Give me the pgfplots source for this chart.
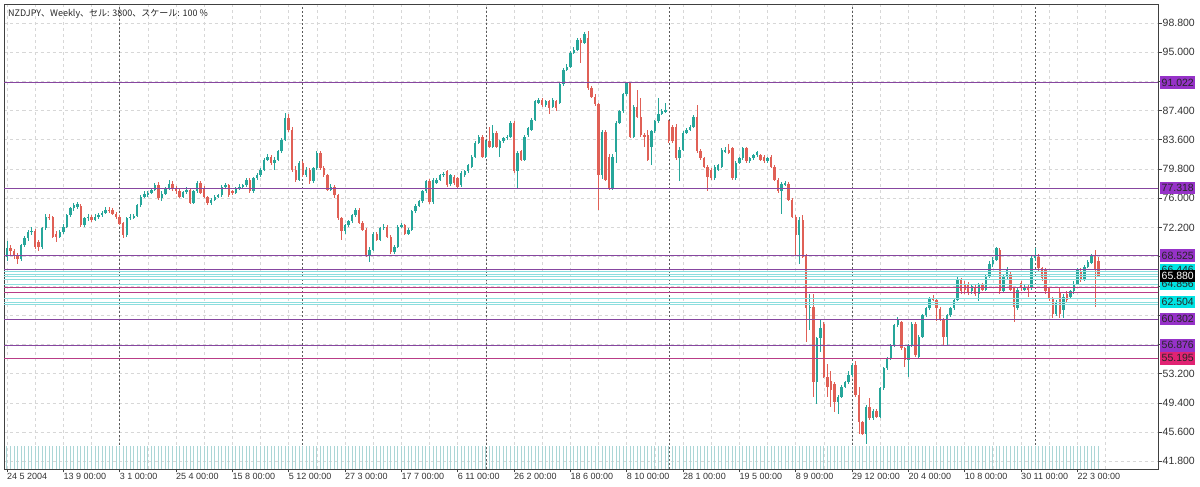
\documentclass[border=0pt]{standalone}
\usepackage{fontspec}
\setmainfont{Liberation Sans}
\newfontfamily\cjk{Noto Sans CJK JP}
\usepackage{pgfplots}
\pgfplotsset{compat=1.18}
\usepackage{pgfplotstable}

\definecolor{upc}{RGB}{38,166,154}
\definecolor{dnc}{RGB}{224,96,86}
\definecolor{volc}{RGB}{172,214,214}
\definecolor{gridc}{RGB}{215,215,215}
\definecolor{yearc}{RGB}{90,90,90}
\definecolor{purl}{RGB}{135,70,160}
\definecolor{pinkl}{RGB}{185,60,135}
\definecolor{cyanl}{RGB}{140,222,222}
\definecolor{purbox}{RGB}{150,50,200}
\definecolor{pinkbox}{RGB}{225,35,115}
\definecolor{cyanbox}{RGB}{0,228,228}

\pgfplotstableread{
i o h l c v
0 68.4 70.4 67.9 69.5 2.99
1 69.5 69.9 68.6 69.1 2.99
2 69.1 69.4 68.1 68.5 2.99
3 68.5 68.9 67.5 68.1 2.99
4 68.1 70.1 67.8 69.9 2.99
5 69.9 71.1 69.6 70.8 2.99
6 70.8 71.9 70.5 71.6 2.99
7 71.6 72.3 71.2 71.8 2.99
8 71.8 72.0 69.4 69.7 2.99
9 70.3 70.6 69.2 69.6 2.99
10 69.6 72.3 69.4 72.1 2.99
11 72.1 73.9 71.9 73.6 2.99
12 73.6 74.0 73.2 73.5 2.99
13 73.5 73.7 70.8 71.0 2.99
14 71.3 71.8 70.3 71.0 2.99
15 71.0 71.9 70.8 71.6 2.99
16 71.6 72.6 71.4 72.3 2.99
17 72.3 74.0 72.1 73.8 2.99
18 73.8 74.9 73.6 74.7 2.99
19 74.7 75.4 74.4 75.1 2.99
20 74.9 75.5 74.6 75.2 2.99
21 75.0 75.2 72.3 72.5 2.99
22 72.5 73.6 72.3 73.4 2.99
23 73.4 73.9 73.1 73.6 2.99
24 73.6 73.8 72.9 73.2 2.99
25 73.2 73.9 73.0 73.6 2.99
26 73.6 74.1 73.3 73.8 2.99
27 73.8 74.3 73.6 74.1 2.99
28 74.1 74.8 73.9 74.5 2.99
29 74.5 74.9 74.1 74.4 2.99
30 74.5 74.7 73.8 74.0 2.99
31 74.0 74.2 73.3 73.6 2.99
32 73.6 73.8 72.5 72.7 2.99
33 72.8 72.9 70.8 71.2 2.99
34 71.2 73.6 71.0 73.4 2.99
35 73.4 74.0 73.2 73.6 2.99
36 73.5 74.0 73.3 73.7 2.99
37 73.7 75.3 73.5 75.1 2.99
38 75.1 76.4 74.9 76.2 2.99
39 76.2 76.9 76.0 76.6 2.99
40 76.5 76.9 76.2 76.7 2.99
41 76.7 77.3 76.5 77.1 2.99
42 77.1 78.0 76.9 77.7 2.99
43 77.7 78.1 75.8 76.0 2.99
44 76.0 76.9 75.7 76.6 2.99
45 76.6 77.5 76.4 77.3 2.99
46 77.3 78.4 77.1 77.9 2.99
47 77.9 78.2 77.0 77.3 2.99
48 77.3 77.6 76.6 76.9 2.99
49 77.0 77.3 76.0 76.2 2.99
50 76.2 77.0 76.0 76.8 2.99
51 76.8 77.4 76.5 77.1 2.99
52 77.1 77.3 75.2 75.4 2.99
53 75.4 77.1 75.2 76.9 2.99
54 76.9 78.3 76.7 78.0 2.99
55 78.0 78.2 76.5 76.7 2.99
56 77.3 77.6 76.0 76.2 2.99
57 76.1 76.3 75.1 75.4 2.99
58 75.4 76.0 75.1 75.8 2.99
59 75.8 76.4 75.6 76.2 2.99
60 76.2 76.6 76.0 76.4 2.99
61 76.4 77.7 76.2 77.5 2.99
62 77.5 78.0 77.3 77.7 2.99
63 77.7 77.9 76.2 76.4 2.99
64 76.9 77.1 76.4 76.7 2.99
65 76.7 77.5 76.5 77.3 2.99
66 77.3 77.8 77.1 77.5 2.99
67 77.5 77.9 77.2 77.7 2.99
68 77.7 78.6 77.5 78.4 2.99
69 78.4 78.6 76.7 76.9 2.99
70 76.9 78.8 76.7 78.6 2.99
71 78.6 79.3 78.4 79.0 2.99
72 79.0 79.9 78.8 79.7 2.99
73 79.7 81.2 79.5 81.0 2.99
74 81.0 81.7 80.8 81.4 2.99
75 81.4 81.6 80.3 80.55 2.99
76 80.55 81.3 79.7 81.0 2.99
77 81.0 82.3 80.8 82.1 2.99
78 82.1 83.8 81.9 83.6 2.99
79 83.6 87.1 83.4 86.4 2.99
80 86.4 87.0 84.6 84.9 2.99
81 84.9 85.2 79.4 79.7 2.99
82 79.7 80.2 78.1 78.4 2.99
83 78.4 80.8 78.2 80.55 2.99
84 80.55 80.9 78.7 79.0 2.99
85 79.0 80.0 78.8 79.7 2.99
86 79.7 79.9 77.9 78.2 2.99
87 78.2 80.1 78.0 79.9 2.99
88 79.9 82.1 79.7 81.9 2.99
89 81.9 82.1 79.7 79.9 2.99
90 79.9 80.2 78.8 79.0 2.99
91 79.0 79.2 76.9 77.1 2.99
92 77.1 77.8 76.9 77.5 2.99
93 77.5 77.7 76.0 76.4 2.99
94 76.4 76.6 73.2 73.4 2.99
95 73.4 73.6 70.6 71.7 2.99
96 71.7 72.7 71.4 72.5 2.99
97 72.5 73.2 72.3 73.0 2.99
98 73.0 74.0 72.8 73.8 2.99
99 73.8 74.7 73.6 74.5 2.99
100 74.5 74.7 72.6 72.8 2.99
101 72.8 73.0 71.7 71.9 2.99
102 71.9 72.1 68.4 68.6 2.99
103 68.6 69.6 67.75 69.3 2.99
104 69.3 71.6 69.1 71.4 2.99
105 71.4 71.6 70.4 70.6 2.99
106 70.6 72.3 70.4 72.1 2.99
107 72.1 72.6 71.9 72.3 2.99
108 72.3 72.5 70.8 71.0 2.99
109 71.0 71.2 68.8 69.05 2.99
110 69.05 69.9 68.8 69.7 2.99
111 69.7 72.5 69.5 72.3 2.99
112 72.3 72.8 72.1 72.5 2.99
113 72.5 72.7 71.2 71.4 2.99
114 71.4 72.1 71.2 71.9 2.99
115 71.9 74.5 71.7 74.3 2.99
116 74.3 75.2 74.1 75.0 2.99
117 75.0 75.8 74.8 75.6 2.99
118 75.6 77.1 75.4 76.9 2.99
119 76.9 78.4 76.7 78.2 2.99
120 78.2 78.5 75.2 75.5 2.99
121 75.5 78.6 75.3 78.4 2.99
122 78.0 78.6 77.8 78.4 2.99
123 78.4 79.2 78.2 79.0 2.99
124 79.0 79.4 78.8 79.2 2.99
125 79.5 79.7 77.5 77.7 2.99
126 77.8 79.2 77.6 79.0 2.99
127 78.8 79.0 77.7 77.95 2.99
128 78.6 78.8 77.3 77.5 2.99
129 77.7 79.5 77.5 79.3 2.99
130 79.0 79.7 78.8 79.5 2.99
131 79.5 80.5 79.3 80.3 2.99
132 80.1 81.6 79.9 81.4 2.99
133 81.4 83.4 81.2 83.2 2.99
134 83.2 84.2 83.0 84.0 2.99
135 84.0 84.2 81.2 81.4 2.99
136 81.4 83.6 81.2 83.4 2.99
137 83.4 85.3 82.5 82.7 2.99
138 82.7 85.5 82.5 84.5 2.99
139 84.5 84.7 82.5 82.7 2.99
140 82.5 83.6 81.4 83.4 2.99
141 83.4 84.0 83.2 83.8 2.99
142 83.8 84.2 83.6 84.0 2.99
143 84.0 86.0 83.8 85.8 2.99
144 85.8 86.0 79.3 79.5 2.99
145 79.5 82.1 77.3 81.9 2.99
146 82.1 82.3 80.8 81.0 2.99
147 81.0 84.2 80.8 84.0 2.99
148 84.2 85.3 84.0 85.1 2.99
149 84.9 86.4 84.7 86.2 2.99
150 86.2 88.8 86.0 88.6 2.99
151 88.4 89.0 88.2 88.8 2.99
152 88.8 89.0 87.9 88.1 2.99
153 88.1 88.8 87.9 88.6 2.99
154 88.6 88.8 87.0 87.7 2.99
155 87.9 89.0 87.7 88.8 2.99
156 88.6 88.8 87.3 87.7 2.99
157 88.4 91.0 88.2 90.8 2.99
158 90.8 92.9 90.6 92.7 2.99
159 92.7 93.4 92.5 93.1 2.99
160 93.1 95.1 92.9 94.9 2.99
161 94.9 95.6 94.7 95.3 2.99
162 95.3 96.8 95.1 96.6 2.99
163 96.6 96.8 93.6 96.2 2.99
164 96.2 97.6 96.0 97.3 2.99
165 96.8 97.7 90.1 90.3 2.99
166 90.3 90.6 89.0 89.2 2.99
167 89.2 89.5 88.0 88.2 2.99
168 88.2 88.4 74.5 79.0 2.99
169 79.0 84.9 78.5 84.6 2.99
170 84.6 84.9 78.2 78.4 2.99
171 81.4 81.7 77.1 77.3 2.99
172 77.3 81.7 77.1 81.4 2.99
173 82.0 86.0 80.6 85.8 2.99
174 85.8 87.5 85.6 87.3 2.99
175 87.3 89.7 87.1 89.5 2.99
176 89.5 91.1 89.3 91.0 2.99
177 91.0 91.1 83.8 84.0 2.99
178 84.0 88.1 83.8 87.9 2.99
179 87.9 90.1 86.4 86.6 2.99
180 86.6 89.0 84.0 84.2 2.99
181 84.2 84.5 82.7 84.0 2.99
182 84.2 84.9 80.8 81.0 2.99
183 82.7 84.9 80.3 84.7 2.99
184 84.7 86.2 84.5 86.0 2.99
185 86.0 89.0 85.8 86.9 2.99
186 87.0 87.6 86.8 87.3 2.99
187 87.3 88.4 87.1 87.5 2.99
188 86.0 86.2 83.2 83.4 2.99
189 85.3 85.5 83.2 83.4 2.99
190 85.3 85.6 81.0 81.2 2.99
191 81.2 82.6 78.2 82.3 2.99
192 82.3 84.7 82.1 84.5 2.99
193 84.5 85.1 84.3 84.9 2.99
194 84.9 85.5 84.7 85.3 2.99
195 85.3 86.8 85.1 86.6 2.99
196 86.6 88.1 81.9 82.1 2.99
197 82.1 82.4 81.0 81.2 2.99
198 81.2 81.4 79.9 80.1 2.99
199 80.1 80.3 76.9 78.8 2.99
200 79.7 79.9 78.4 78.6 2.99
201 78.6 80.3 78.4 80.1 2.99
202 79.7 80.5 79.5 80.3 2.99
203 80.1 82.5 79.9 82.3 2.99
204 82.1 82.6 81.9 82.3 2.99
205 82.3 83.0 81.7 81.9 2.99
206 82.5 82.7 78.4 78.6 2.99
207 78.6 80.8 78.4 80.6 2.99
208 80.6 81.4 80.4 81.2 2.99
209 81.2 82.7 81.0 82.5 2.99
210 82.5 82.7 80.6 80.8 2.99
211 80.8 81.4 80.6 81.2 2.99
212 81.2 81.8 81.0 81.6 2.99
213 81.6 82.2 81.4 82.0 2.99
214 81.6 81.8 80.8 81.0 2.99
215 81.4 81.6 80.6 80.8 2.99
216 80.8 81.4 80.6 81.2 2.99
217 81.4 81.6 79.9 80.1 2.99
218 80.1 80.3 78.2 78.4 2.99
219 78.4 78.6 76.7 76.9 2.99
220 76.9 78.1 74.0 77.9 2.99
221 77.8 78.2 77.6 77.9 2.99
222 77.9 78.1 75.6 75.8 2.99
223 75.8 76.0 73.4 73.6 2.99
224 73.6 73.8 68.6 71.2 2.99
225 71.2 73.6 67.4 73.2 2.99
226 73.2 73.8 68.2 68.4 2.99
227 68.6 68.8 57.3 61.7 2.99
228 61.7 63.6 58.9 61.9 2.99
229 61.9 63.6 50.2 52.1 2.99
230 52.1 58.0 49.3 57.8 2.99
231 57.8 60.2 56.0 59.1 2.99
232 59.7 59.9 52.6 52.8 2.99
233 52.8 54.5 50.2 51.5 2.99
234 52.3 53.6 48.9 51.1 2.99
235 51.9 52.1 48.2 49.5 2.99
236 49.5 50.4 48.0 50.2 2.99
237 50.2 51.7 50.0 51.5 2.99
238 51.5 52.3 51.3 52.1 2.99
239 52.1 53.6 51.9 53.0 2.99
240 53.0 54.6 52.8 54.3 2.99
241 54.3 54.9 50.2 50.4 2.99
242 50.4 51.5 45.4 46.9 2.99
243 46.9 47.1 45.2 45.4 2.99
244 45.4 49.1 44.1 48.9 2.99
245 48.9 50.0 47.2 47.4 2.99
246 47.4 48.6 47.2 48.4 2.99
247 48.4 48.6 47.4 47.6 2.99
248 47.6 51.5 47.4 51.3 2.99
249 51.3 54.1 51.1 53.9 2.99
250 53.9 55.4 53.7 55.2 2.99
251 55.2 57.1 55.0 56.9 2.99
252 56.9 59.7 56.7 59.5 2.99
253 59.5 60.5 59.3 60.2 2.99
254 59.9 60.1 56.3 56.5 2.99
255 56.5 56.7 54.1 55.0 2.99
256 55.0 57.1 52.8 56.9 2.99
257 56.9 59.9 56.7 59.7 2.99
258 59.7 59.9 55.4 55.6 2.99
259 55.4 58.2 55.2 58.0 2.99
260 58.0 61.0 57.8 60.8 2.99
261 60.8 61.9 60.6 61.7 2.99
262 61.7 63.2 61.5 63.0 2.99
263 63.0 63.4 62.6 62.8 2.99
264 62.8 63.0 60.0 61.7 2.99
265 61.6 61.8 60.0 60.2 2.99
266 60.2 60.4 56.9 58.0 2.99
267 58.0 61.0 56.9 60.8 2.99
268 60.8 61.9 60.6 61.7 2.99
269 61.7 63.0 61.5 62.8 2.99
270 62.8 65.8 62.6 65.4 2.99
271 65.4 65.6 63.5 63.9 2.99
272 64.9 65.2 63.6 64.1 2.99
273 64.9 65.1 63.4 63.8 2.99
274 63.9 64.9 63.6 64.6 2.99
275 64.5 64.8 63.3 63.6 2.99
276 63.6 65.0 62.7 64.7 2.99
277 64.7 65.0 63.9 64.1 2.99
278 64.1 66.1 63.9 65.8 2.99
279 65.8 67.8 65.6 67.5 2.99
280 67.5 68.3 67.1 68.0 2.99
281 68.0 69.6 67.8 69.5 2.99
282 69.3 69.5 63.6 63.9 2.99
283 63.9 66.1 63.7 65.8 2.99
284 65.8 67.0 65.5 66.7 2.99
285 66.2 66.5 63.9 64.1 2.99
286 64.3 64.5 59.9 61.9 2.99
287 61.7 64.3 61.5 64.1 2.99
288 65.0 65.2 64.0 64.3 2.99
289 64.1 64.8 63.9 64.5 2.99
290 64.5 64.7 63.2 64.1 2.99
291 64.3 68.5 64.1 68.2 2.99
292 68.2 69.5 67.9 68.5 2.99
293 68.4 68.7 66.6 66.9 2.99
294 66.9 67.1 65.3 65.6 2.99
295 66.7 66.9 63.6 63.9 2.99
296 64.3 64.5 62.7 63.0 2.99
297 63.0 63.2 60.4 61.0 2.99
298 61.0 62.8 60.7 62.5 2.99
299 63.8 64.4 60.4 61.0 2.99
300 61.5 63.5 60.4 63.2 2.99
301 63.6 63.9 62.5 62.8 2.99
302 63.2 64.1 62.9 63.9 2.99
303 63.9 65.2 63.6 64.9 2.99
304 64.9 66.9 64.7 66.7 2.99
305 66.6 66.9 65.1 65.4 2.99
306 65.4 67.3 65.2 67.1 2.99
307 67.1 68.0 66.9 67.75 2.99
308 67.6 68.8 67.4 68.6 2.99
309 68.6 69.3 61.9 66.7 2.99
310 67.8 68.3 65.7 65.88 2.99
}\candles

\begin{document}
\begin{tikzpicture}
\useasboundingbox (-4.5pt,-18pt) rectangle (1195.5pt,469pt);
\begin{axis}[
  at={(0pt,0pt)}, anchor=south west,
  scale only axis, width=1153.5pt, height=464.5pt,
  xmin=-0.71, xmax=326.9, ymin=40.80, ymax=101.19,
  clip=false,
  axis line style={draw=black!75, line width=0.8pt},
  xtick={0,16,...,304},
  xticklabels={24 5 2004,13 9 00:00,3 1 00:00,25 4 00:00,15 8 00:00,5 12 00:00,27 3 00:00,17 7 00:00,6 11 00:00,26 2 00:00,18 6 00:00,8 10 00:00,28 1 00:00,19 5 00:00,8 9 00:00,29 12 00:00,20 4 00:00,10 8 00:00,30 11 00:00,22 3 00:00},
  minor xtick={8,24,...,320},
  ytick={41.8,45.6,49.4,53.2,57.0,60.8,64.6,68.4,72.2,76.0,79.8,83.6,87.4,91.2,95.0,98.8},
  yticklabels={41.800,45.600,49.400,53.200,,,,,72.200,76.000,79.800,83.600,87.400,,95.000,98.800},
  xtick pos=bottom, ytick pos=right, yticklabel pos=right,
  tick align=outside, major tick length=3.5pt, minor tick length=0pt,
  tick style={black!75, line width=0.6pt},
  grid=both,
  major grid style={gridc, dash pattern=on 3pt off 3pt, line width=0.6pt},
  minor grid style={gridc, dash pattern=on 3pt off 3pt, line width=0.6pt},
  xticklabel style={font=\fontsize{9}{10}\selectfont, text=black!80, anchor=north west, xshift=-1pt, inner sep=1pt},
  yticklabel style={font=\fontsize{10.5}{11}\selectfont, text=black!80, anchor=west, inner sep=1pt},
  candle/.style={draw=none, mark=none, forget plot, error bars/y dir=both, error bars/y explicit, error bars/error mark=none},
]
% year separators
\pgfplotsinvokeforeach{32,84,136,188,240,292}{
  \addplot[yearc, dash pattern=on 2pt off 2pt, line width=0.7pt] coordinates {(#1,40.80) (#1,101.19)};
}
% volume
\addplot[draw=none, mark=none, error bars/y dir=plus, error bars/y explicit, error bars/error mark=none,
  error bars/error bar style={draw=volc, line width=1pt}]
  table[x=i, y expr=40.80, y error=v] {\candles};
% wicks
\addplot[candle, restrict expr to domain={\thisrow{c}-\thisrow{o}}{0:100},
  error bars/error bar style={draw=upc, line width=0.9pt}]
  table[x=i, y expr={(\thisrow{h}+\thisrow{l})/2}, y error expr={(\thisrow{h}-\thisrow{l})/2}] {\candles};
\addplot[candle, restrict expr to domain={\thisrow{c}-\thisrow{o}}{-100:-0.0001},
  error bars/error bar style={draw=dnc, line width=0.9pt}]
  table[x=i, y expr={(\thisrow{h}+\thisrow{l})/2}, y error expr={(\thisrow{h}-\thisrow{l})/2}] {\candles};
% bodies
\addplot[candle, restrict expr to domain={\thisrow{c}-\thisrow{o}}{0:100},
  error bars/error bar style={draw=upc, line width=2.4pt}]
  table[x=i, y expr={(\thisrow{o}+\thisrow{c})/2}, y error expr={max(abs(\thisrow{c}-\thisrow{o})/2,0.07)}] {\candles};
\addplot[candle, restrict expr to domain={\thisrow{c}-\thisrow{o}}{-100:-0.0001},
  error bars/error bar style={draw=dnc, line width=2.4pt}]
  table[x=i, y expr={(\thisrow{o}+\thisrow{c})/2}, y error expr={max(abs(\thisrow{c}-\thisrow{o})/2,0.07)}] {\candles};
% horizontal levels
\pgfplotsinvokeforeach{66.446,66.110,65.800,65.500,64.856,62.990,62.504,62.250}{
  \addplot[cyanl, line width=0.8pt] coordinates {(-0.71,#1) (326.9,#1)};
}
\pgfplotsinvokeforeach{91.022,77.318,68.525,66.760,60.302,56.876}{
  \addplot[purl, line width=0.8pt] coordinates {(-0.71,#1) (326.9,#1)};
}
\pgfplotsinvokeforeach{64.420,63.720,55.195}{
  \addplot[pinkl, line width=0.8pt] coordinates {(-0.71,#1) (326.9,#1)};
}
\coordinate (r91) at (axis cs:326.9,91.022);
\coordinate (r77) at (axis cs:326.9,77.318);
\coordinate (r68) at (axis cs:326.9,68.525);
\coordinate (r664) at (axis cs:326.9,66.446);
\coordinate (r658) at (axis cs:326.9,65.880);
\coordinate (r648) at (axis cs:326.9,64.856);
\coordinate (r625) at (axis cs:326.9,62.504);
\coordinate (r60) at (axis cs:326.9,60.302);
\coordinate (r56) at (axis cs:326.9,56.876);
\coordinate (r55) at (axis cs:326.9,55.195);
\end{axis}
\tikzset{lab/.style={anchor=west, xshift=2pt, inner xsep=1.5pt, inner ysep=0pt, minimum height=12.5pt, font=\fontsize{10.5}{11}\selectfont, text=black!85}}
\node[lab, fill=purbox] at (r91) {91.022};
\node[lab, fill=purbox] at (r77) {77.318};
\node[lab, fill=purbox] at (r68) {68.525};
\node[lab, fill=cyanbox, yshift=1.5pt] at (r664) {66.446};
\node[lab, fill=cyanbox] at (r648) {64.856};
\node[lab, fill=cyanbox] at (r625) {62.504};
\node[lab, fill=purbox] at (r60) {60.302};
\node[lab, fill=purbox] at (r56) {56.876};
\node[lab, fill=pinkbox] at (r55) {55.195};
\node[lab, fill=black, text=white] at (r658) {65.880};
\node[anchor=base west, inner sep=0pt, font=\cjk\fontsize{9}{10}\selectfont, text=black!85] at (3.5pt,452pt) {NZDJPY、Weekly、セル: 3800、スケール: 100 \%};
\end{tikzpicture}
\end{document}
